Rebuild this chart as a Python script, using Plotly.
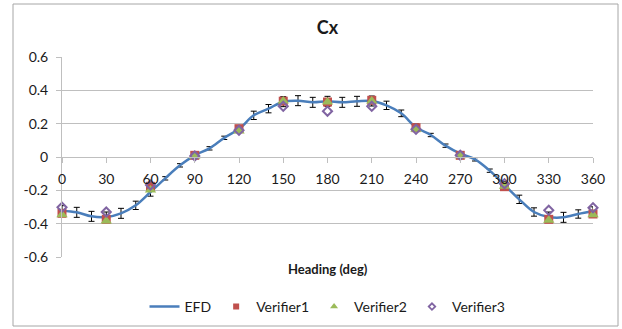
import plotly.graph_objects as go

# ---- data ----
efd_heading = [0, 10, 20, 30, 40, 50, 60, 70, 80, 90, 100, 110, 120, 130, 140, 150, 160, 170, 180,
               190, 200, 210, 220, 230, 240, 250, 260, 270, 280, 290, 300, 310, 320, 330, 340, 350, 360]
efd_cx = [-0.322, -0.332, -0.356, -0.36, -0.338, -0.29, -0.21, -0.128, -0.05, 0.01, 0.052, 0.115,
          0.168, 0.25, 0.29, 0.332, 0.338, 0.328, 0.334, 0.328, 0.334, 0.336, 0.31, 0.262, 0.178,
          0.132, 0.068, 0.02, -0.014, -0.082, -0.168, -0.254, -0.33, -0.36, -0.362, -0.342, -0.324]
efd_err = [0.03, 0.03, 0.03, 0.03, 0.03, 0.025, 0.025, 0.01, 0.01, 0.01, 0.01, 0.01,
           0.02, 0.025, 0.025, 0.03, 0.03, 0.03, 0.03, 0.03, 0.03, 0.03, 0.025, 0.02, 0.02,
           0.01, 0.01, 0.01, 0.01, 0.01, 0.02, 0.025, 0.025, 0.03, 0.03, 0.025, 0.025]

ver_heading = [0, 30, 60, 90, 120, 150, 180, 210, 240, 270, 300, 330, 360]
verifier1 = [-0.338, -0.374, -0.176, 0.01, 0.17, 0.335, 0.33, 0.34, 0.176, 0.01, -0.178, -0.374, -0.342]
verifier2 = [-0.346, -0.384, -0.198, 0.004, 0.156, 0.336, 0.33, 0.336, 0.166, 0.008, -0.176, -0.38, -0.346]
verifier3 = [-0.302, -0.33, -0.168, 0.006, 0.16, 0.304, 0.275, 0.304, 0.166, 0.01, -0.16, -0.32, -0.304]

x_ticks = [0, 30, 60, 90, 120, 150, 180, 210, 240, 270, 300, 330, 360]
y_ticks = [-0.6, -0.4, -0.2, 0, 0.2, 0.4, 0.6]
y_ticktext = ["-0.6", "-0.4", "-0.2", "0", "0.2", "0.4", "0.6"]

FONT = "Lato"
GRID = "#BFBFBF"
TXT = "#1a1a1a"
C_EFD, C1, C2, C3 = "#4A7EBB", "#C0504D", "#9BBB59", "#8064A2"

fig = go.Figure()
fig.add_trace(go.Scatter(
    x=efd_heading, y=efd_cx, name="EFD", mode="lines",
    line=dict(color=C_EFD, width=2.5, shape="spline", smoothing=1.0),
    error_y=dict(type="data", array=efd_err, visible=True, color="#000000", thickness=1, width=3),
    cliponaxis=False,
))
fig.add_trace(go.Scatter(
    x=ver_heading, y=verifier1, name="Verifier1", mode="markers", showlegend=False,
    marker=dict(symbol="square", size=9, color=C1), cliponaxis=False,
))
fig.add_trace(go.Scatter(
    x=ver_heading, y=verifier2, name="Verifier2", mode="markers", showlegend=False,
    marker=dict(symbol="triangle-up", size=10, color=C2), cliponaxis=False,
))
fig.add_trace(go.Scatter(
    x=ver_heading, y=verifier3, name="Verifier3", mode="markers", showlegend=False,
    marker=dict(symbol="diamond-open", size=7, color=C3, line=dict(width=2)), cliponaxis=False,
))
# legend entries with smaller symbols, as in the reference legend
fig.add_trace(go.Scatter(x=[None], y=[None], name="Verifier1", mode="markers",
                         marker=dict(symbol="square", size=6, color=C1)))
fig.add_trace(go.Scatter(x=[None], y=[None], name="Verifier2", mode="markers",
                         marker=dict(symbol="triangle-up", size=7, color=C2)))
fig.add_trace(go.Scatter(x=[None], y=[None], name="Verifier3", mode="markers",
                         marker=dict(symbol="diamond-open", size=5, color=C3, line=dict(width=1.8))))

fig.update_layout(
    width=622, height=329,
    margin=dict(l=62, r=29, t=57, b=72, autoexpand=False),
    paper_bgcolor="white", plot_bgcolor="white",
    font=dict(family=FONT, size=13, color=TXT),
    title=dict(text="<b>Cx</b>", x=0.5, xref="paper", xanchor="center",
               y=(329 - 28) / 329, yanchor="middle", font=dict(size=18, color=TXT)),
    showlegend=True,
    legend=dict(orientation="h", x=0.5, xanchor="center", y=-0.25, yanchor="middle",
                font=dict(size=14, color=TXT), itemwidth=30, tracegroupgap=0,
                bgcolor="rgba(0,0,0,0)"),
    xaxis=dict(range=[0, 360], tickvals=x_ticks, ticks="outside", ticklen=5, tickcolor=GRID,
               showline=True, linecolor=GRID, linewidth=1, showgrid=False, zeroline=False,
               anchor="free", position=0.5, ticklabelstandoff=4,
               tickfont=dict(size=14, color=TXT)),
    yaxis=dict(range=[-0.6, 0.6], tickvals=y_ticks, ticktext=y_ticktext, ticks="outside",
               ticklen=5, tickcolor=GRID, showline=True, linecolor=GRID, linewidth=1,
               showgrid=True, gridcolor=GRID, gridwidth=1, zeroline=False,
               ticklabelstandoff=5, tickfont=dict(size=14, color=TXT)),
)

fig.add_annotation(text="<b>Heading (deg)</b>", xref="paper", yref="paper",
                   x=(328 - 62) / 531, y=(257 - 269) / 200, showarrow=False,
                   xanchor="center", yanchor="middle", font=dict(size=13, color=TXT))

fig.add_shape(type="rect", xref="paper", yref="paper",
              x0=(13 - 62) / 531, x1=(618 - 62) / 531, y0=(257 - 326) / 200, y1=(257 - 4) / 200,
              line=dict(color="#A6A6A6", width=1), fillcolor="rgba(0,0,0,0)", layer="below")

fig.write_html("out.html")
